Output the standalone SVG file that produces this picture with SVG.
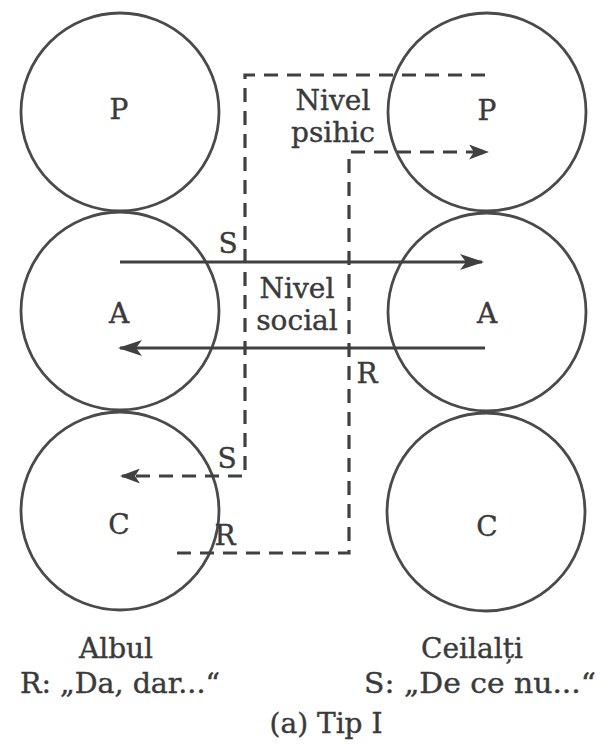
<svg xmlns="http://www.w3.org/2000/svg" width="600" height="745" viewBox="0 0 600 745">
  <style>
    .ring { fill: none; stroke: #4a4a4a; stroke-width: 2.8; }
    .lbl { font-family: "DejaVu Serif", "Liberation Serif", serif; font-size: 28px; fill: #3a3a3a; stroke: #3a3a3a; stroke-width: 0.4; text-anchor: middle; }
    .solid { fill: none; stroke: #404040; stroke-width: 2.8; }
    .dash { fill: none; stroke: #404040; stroke-width: 3.2; stroke-dasharray: 14 9; }
  </style>
  <defs>
    <marker id="head" viewBox="0 0 24 16" refX="22" refY="8" markerWidth="24" markerHeight="16" markerUnits="userSpaceOnUse" orient="auto">
      <path d="M0,0 L24,8 L0,16 L6,8 Z" fill="#404040"/>
    </marker>
    <marker id="headSmall" viewBox="0 0 20 15" refX="18" refY="7.5" markerWidth="20" markerHeight="15" markerUnits="userSpaceOnUse" orient="auto">
      <path d="M0,0 L20,7.5 L0,15 L5,7.5 Z" fill="#404040"/>
    </marker>
  </defs>
  <rect width="600" height="745" fill="#fff"/>

  <!-- left column: Albul -->
  <g id="albul-P"><circle class="ring" cx="120" cy="112" r="99"/><text class="lbl" x="119" y="119">P</text></g>
  <g id="albul-A"><circle class="ring" cx="120" cy="311" r="99"/><text class="lbl" x="119" y="323">A</text></g>
  <g id="albul-C"><circle class="ring" cx="120" cy="511" r="99"/><text class="lbl" x="119" y="534">C</text></g>

  <!-- right column: Ceilalți -->
  <g id="ceilalti-P"><circle class="ring" cx="487" cy="112" r="99"/><text class="lbl" x="487" y="120">P</text></g>
  <g id="ceilalti-A"><circle class="ring" cx="487" cy="312" r="99"/><text class="lbl" x="487" y="323">A</text></g>
  <g id="ceilalti-C"><circle class="ring" cx="486" cy="512" r="99"/><text class="lbl" x="487" y="536">C</text></g>

  <!-- transactions -->
  <g id="connectors">
    <line class="solid" x1="120" y1="262" x2="482" y2="262" marker-end="url(#head)"/>
    <line class="solid" x1="485" y1="348" x2="120" y2="348" marker-end="url(#head)"/>
    <path class="dash" d="M485,75 H245 V476 H122" marker-end="url(#headSmall)"/>
    <path class="dash" d="M177,553 H349 V152 H487" marker-end="url(#headSmall)"/>
  </g>

  <!-- connector labels -->
  <g id="labels">
    <text class="lbl" x="228" y="253">S</text>
    <text class="lbl" x="367" y="383">R</text>
    <text class="lbl" x="227" y="468">S</text>
    <text class="lbl" x="225" y="545">R</text>
    <text class="lbl" x="297" y="298">Nivel</text>
    <text class="lbl" x="297" y="330">social</text>
    <text class="lbl" x="333" y="110">Nivel</text>
    <text class="lbl" x="333" y="142">psihic</text>
  </g>

  <!-- captions -->
  <g id="captions">
    <text class="lbl" x="116" y="658">Albul</text>
    <text class="lbl" x="120" y="693" textLength="200" lengthAdjust="spacingAndGlyphs">R: „Da, dar...“</text>
    <text class="lbl" x="472" y="658">Ceilalți</text>
    <text class="lbl" x="480" y="693" textLength="232" lengthAdjust="spacingAndGlyphs">S: „De ce nu...“</text>
    <text class="lbl" x="326" y="733">(a) Tip I</text>
  </g>
</svg>
